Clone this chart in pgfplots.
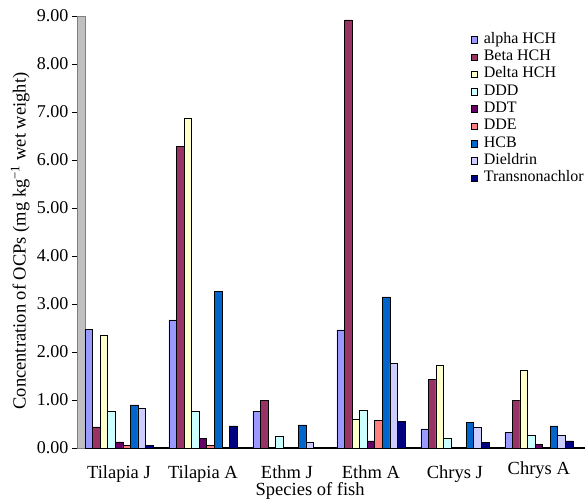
\documentclass[border=0pt]{standalone}
\usepackage{fontspec}
\setmainfont{Liberation Serif}
\usepackage{pgfplots}
\usepackage{pgfplotstable}
\pgfplotsset{compat=1.18}

\definecolor{calpha}{HTML}{9999FF}
\definecolor{cbeta}{HTML}{993366}
\definecolor{cdelta}{HTML}{FFFFCC}
\definecolor{cddd}{HTML}{CCFFFF}
\definecolor{cddt}{HTML}{660066}
\definecolor{cdde}{HTML}{FF8080}
\definecolor{chcb}{HTML}{0066CC}
\definecolor{cdiel}{HTML}{CCCCFF}
\definecolor{ctrans}{HTML}{000080}
\definecolor{cwall}{HTML}{C0C0C0}

% mg/kg wet weight, one row per fish group
\pgfplotstableread{
x alpha beta delta ddd ddt dde hcb diel trans
0 2.47 0.44 2.34 0.76 0.13 0.05 0.90 0.83 0.05
1 2.67 6.28 6.88 0.76 0.20 0.05 3.27 0.02 0.46
2 0.77 0.99 0.02 0.24 0.01 0.02 0.48 0.13 0.02
3 2.46 8.92 0.60 0.79 0.15 0.57 3.15 1.76 0.55
4 0.40 1.43 1.73 0.21 0.02 0.01 0.53 0.43 0.12
5 0.33 1.00 1.62 0.26 0.07 0.01 0.46 0.26 0.15
}\ocps

\begin{document}
\begin{tikzpicture}
\begin{axis}[
  name=ax,
  scale only axis, width=508bp, height=432bp,
  ybar=0pt, bar width=0.09,
  xmin=-0.5, xmax=5.55, ymin=0, ymax=9,
  axis x line*=bottom, axis y line*=left,
  x axis line style={line width=1.6bp},
  y axis line style={line width=0.6bp},
  xtick={0,...,5},
  xticklabels={Tilapia J, Tilapia A, Ethm J, Ethm A, Chrys J, \raisebox{4bp}[\height][\depth]{Chrys A}},
  xtick style={draw=none},
  xticklabel style={font=\fontsize{18.5bp}{20bp}\selectfont, yshift=-9bp},
  ytick={0,1,...,9},
  tick align=outside, major tick length=5bp,
  ytick style={line width=0.6bp, black},
  yticklabel={\pgfmathprintnumber[fixed, fixed zerofill, precision=2, assume math mode=true]{\tick}},
  yticklabel style={font=\fontsize{18bp}{20bp}\selectfont},
  xlabel={Species of fish},
  ylabel={Concentration of OCPs (mg kg\textsuperscript{\textminus1} wet weight)},
  label style={font=\fontsize{18.5bp}{20bp}\selectfont},
  xlabel style={at={(axis description cs:0.459,-0.099)}, anchor=center},
  ylabel style={at={(axis description cs:-0.112,0.479)}, anchor=center},
  legend style={at={(0.775,0.965)}, anchor=north west, draw=none, fill=none,
    inner sep=0pt, font=\fontsize{16bp}{17bp}\selectfont,
    nodes={inner sep=0pt, text height=12bp, text depth=5.3bp},
    /tikz/every odd column/.style={column sep=6bp}},
  legend cell align=left,
  legend image code/.code={\draw[#1, draw=black, line width=0.4bp] (0bp,-3bp) rectangle (6.5bp,3.5bp);},
  every axis plot/.append style={draw=black, line width=0.5bp},
]
\fill[cwall, draw=gray] (axis cs:-0.5,0) rectangle (axis cs:-0.405,9);
\addplot[fill=calpha] table[x=x, y=alpha] {\ocps};
\addplot[fill=cbeta] table[x=x, y=beta] {\ocps};
\addplot[fill=cdelta] table[x=x, y=delta] {\ocps};
\addplot[fill=cddd] table[x=x, y=ddd] {\ocps};
\addplot[fill=cddt] table[x=x, y=ddt] {\ocps};
\addplot[fill=cdde] table[x=x, y=dde] {\ocps};
\addplot[fill=chcb] table[x=x, y=hcb] {\ocps};
\addplot[fill=cdiel] table[x=x, y=diel] {\ocps};
\addplot[fill=ctrans] table[x=x, y=trans] {\ocps};
\legend{alpha HCH, Beta HCH, Delta HCH, DDD, DDT, DDE, HCB, Dieldrin, Transnonachlor}
\end{axis}
\path (ax.south west) ++(-77bp,-56bp) rectangle ++(586bp,504bp);
\end{tikzpicture}
\end{document}
